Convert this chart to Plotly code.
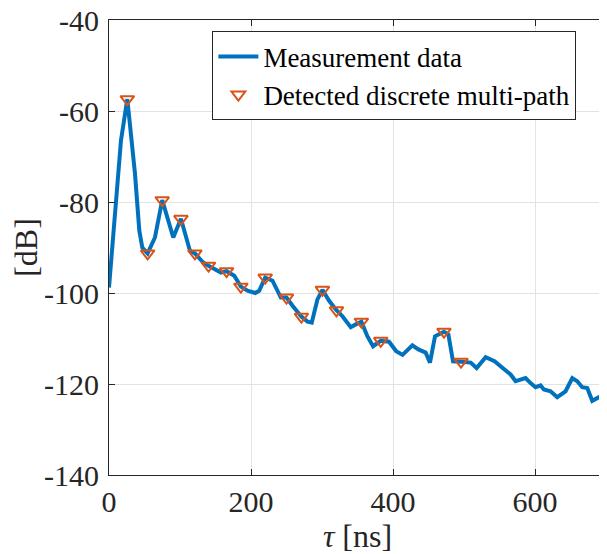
import plotly.graph_objects as go

# Measurement data (delay in ns, power in dB)
tau_ns = [0, 8.4, 16.9, 25.8, 36.6, 42.7, 46.9, 54.4, 64.7, 75.0, 90.5, 101.3, 114.0, 121.0,
          132.7, 140.2, 150.6, 157.6, 165.6, 176.4, 185.7, 195.1, 205.9, 211.5, 220.0, 230.3,
          242.0, 250.0, 258.5, 271.0, 279.6, 285.6, 293.6, 300.6, 310.0, 320.4, 328.8, 340.5,
          347.5, 355.5, 363.9, 371.9, 382.7, 394.4, 404.5, 413.5, 427.3, 435.8, 446.0, 452.1,
          459.2, 465.7, 471.8, 478.0, 484.5, 495.8, 509.4, 517.8, 530.5, 543.0, 556.2, 565.6,
          572.7, 586.7, 593.8, 600.8, 607.8, 612.5, 621.9, 631.3, 643.0, 652.5, 659.5, 666.5,
          673.6, 680.6, 692.3, 701.7]
power_db = [-98.8, -82.6, -66.4, -57.4, -73.8, -86.3, -90.0, -91.3, -87.8, -79.6, -87.8, -83.7, -90.7, -91.3,
            -93.3, -94.0, -95.0, -95.5, -95.2, -96.2, -98.6, -99.5, -100.0, -99.5, -96.6, -97.3,
            -101.0, -101.0, -102.8, -105.2, -106.3, -106.5, -101.4, -99.3, -101.7, -103.8, -105.1, -107.5,
            -106.9, -106.3, -109.5, -111.7, -110.5, -110.7, -112.8, -113.6, -111.5, -112.4, -113.1, -115.3,
            -109.5, -108.9, -108.5, -109.1, -115.0, -115.1, -115.3, -116.5, -114.1, -115.0, -116.8, -117.9,
            -119.4, -118.7, -119.8, -120.7, -120.3, -121.2, -121.6, -122.9, -121.6, -118.7, -119.4, -120.7,
            -120.9, -123.7, -122.7, -124.4]

# Detected discrete multi-path components
mp_tau_ns = [25.8, 54.4, 75.0, 101.3, 121.0, 140.2, 165.6, 185.7, 220.0, 250.0, 271.0,
             300.6, 320.4, 355.5, 382.7, 471.8, 495.8]
mp_power_db = [-57.4, -91.3, -79.6, -83.7, -91.3, -94.0, -95.2, -98.6, -96.6, -101.0, -105.2,
               -99.3, -103.8, -106.3, -110.5, -108.5, -115.1]

x_ticks = [0, 200, 400, 600]
x_ticklabels = ["0", "200", "400", "600"]
y_ticks = [-140, -120, -100, -80, -60, -40]
y_ticklabels = ["-140", "-120", "-100", "-80", "-60", "-40"]

fig = go.Figure()
fig.add_trace(go.Scatter(
    x=tau_ns, y=power_db, mode="lines", name="Measurement data",
    line=dict(color="#0072BD", width=4), line_shape="linear"))
fig.add_trace(go.Scatter(
    x=mp_tau_ns, y=mp_power_db, mode="markers", name="Detected discrete multi-path",
    marker=dict(symbol="triangle-down-open", size=12, color="#D95319",
                line=dict(color="#D95319", width=2))))

axis_common = dict(
    showline=True, linecolor="#262626", linewidth=1, mirror="ticks",
    ticks="inside", ticklen=6, tickcolor="#262626",
    showgrid=True, gridcolor="#E3E3E3", gridwidth=1, zeroline=False,
    automargin=False, ticklabeloverflow="allow",
    tickfont=dict(family="Liberation Serif", size=30, color="#262626"),
)

fig.update_layout(
    width=607, height=554,
    margin=dict(l=101, r=9, t=12, b=87),
    paper_bgcolor="white", plot_bgcolor="white",
    font=dict(family="Liberation Serif", color="#262626"),
    xaxis=dict(range=[0, 700], tickvals=x_ticks, ticktext=x_ticklabels,
               title=dict(text="<i>τ</i> [ns]", font=dict(family="Liberation Serif", size=32), standoff=4),
               **axis_common),
    yaxis=dict(range=[-140, -40], tickvals=y_ticks, ticktext=y_ticklabels, ticklabelstandoff=3,
               title=dict(text="[dB]", font=dict(family="Liberation Serif", size=32), standoff=10),
               **axis_common),
    legend=dict(x=0.208, y=0.975, xanchor="left", yanchor="top",
                bgcolor="white", bordercolor="#262626", borderwidth=1,
                font=dict(family="Liberation Serif", size=27, color="#000000"),
                tracegroupgap=0, itemwidth=40),
    showlegend=True,
)

fig.write_html("out.html")
